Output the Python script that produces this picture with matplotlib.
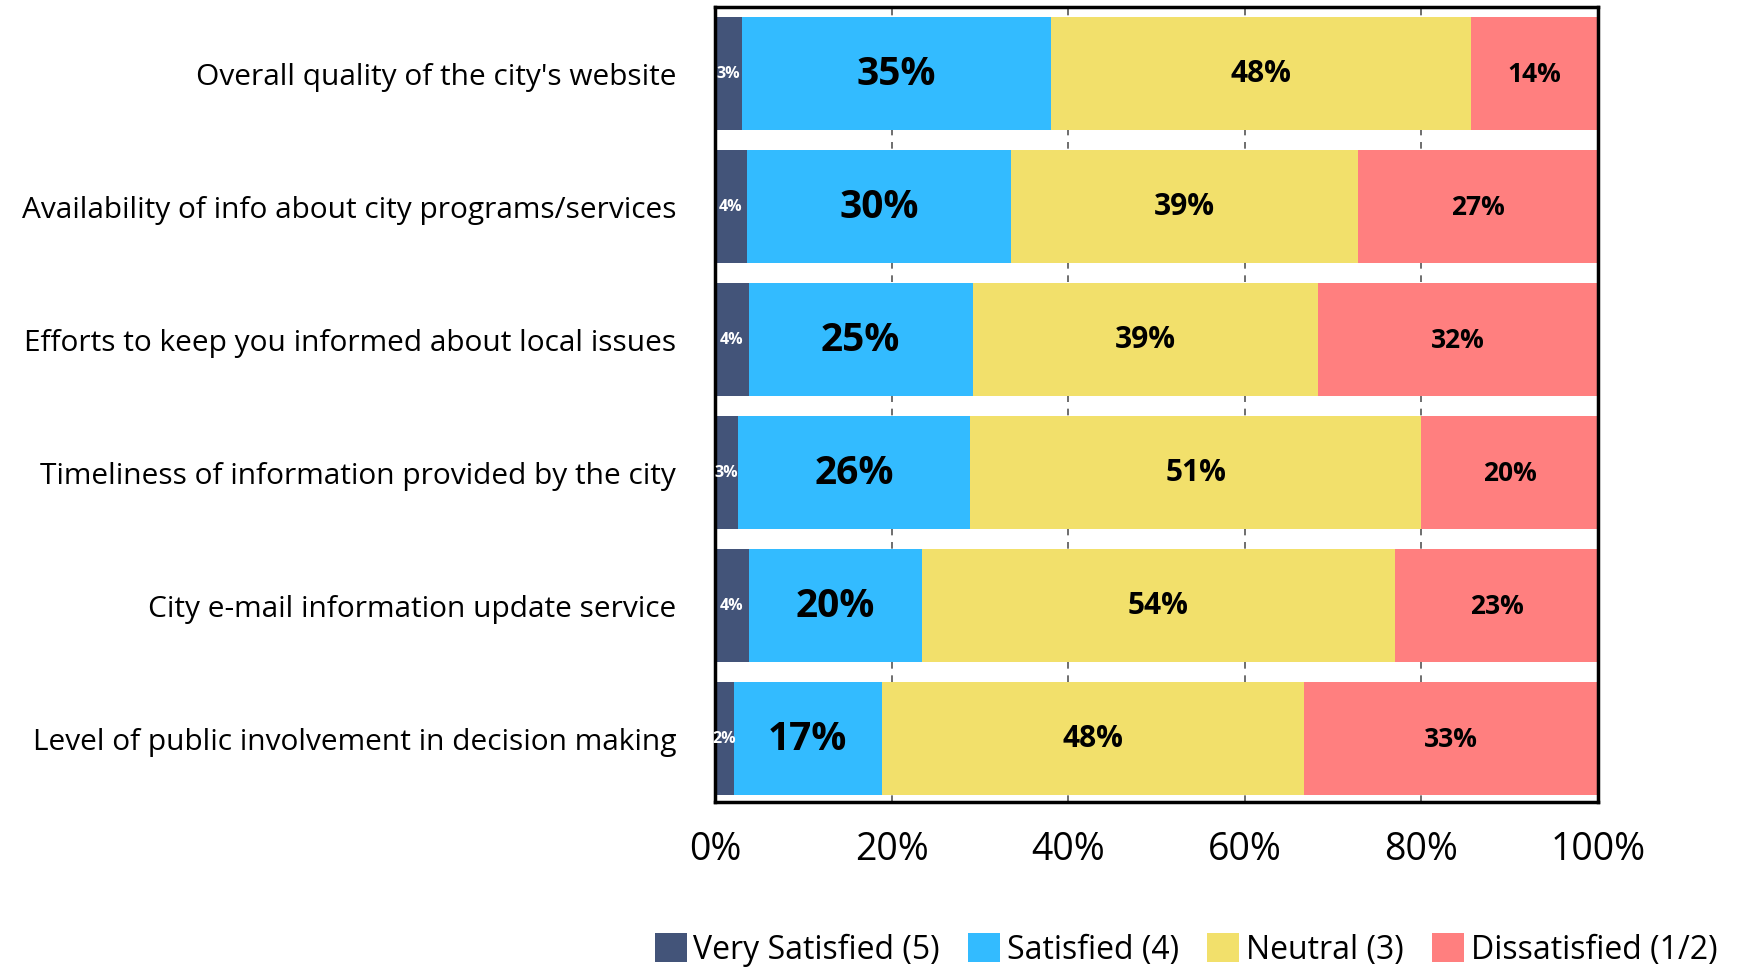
import matplotlib.pyplot as plt

plt.rcParams['font.family'] = ['Open Sans', 'DejaVu Sans']

# categories, top to bottom
categories = [
    "Overall quality of the city's website",
    "Availability of info about city programs/services",
    "Efforts to keep you informed about local issues",
    "Timeliness of information provided by the city",
    "City e-mail information update service",
    "Level of public involvement in decision making",
]

very_satisfied = [3.1, 3.6, 3.8, 2.6, 3.8, 2.1]
satisfied = [34.9, 29.9, 25.4, 26.3, 19.6, 16.8]
neutral = [47.6, 39.3, 39.1, 51.1, 53.6, 47.8]
dissatisfied = [14.4, 27.2, 31.7, 20.0, 23.0, 33.3]

series_names = ["Very Satisfied (5)", "Satisfied (4)", "Neutral (3)", "Dissatisfied (1/2)"]
colors = ["#435479", "#33BBFF", "#F2E06B", "#FF7F7F"]
label_colors = ["white", "black", "black", "black"]
label_sizes = [11.5, 28, 21.5, 19]

fig = plt.figure(figsize=(17.44, 9.7), dpi=100)
ax = fig.add_axes([0.41, 0.172, 0.5063, 0.82])

y = list(range(len(categories)))
left = [0.0] * len(categories)
all_series = [very_satisfied, satisfied, neutral, dissatisfied]
for vals, name, col, lc, ls in zip(all_series, series_names, colors, label_colors, label_sizes):
    bars = ax.barh(y, vals, left=left, height=0.85, color=col, label=name, zorder=2)
    for b, v in zip(bars, vals):
        ax.text(b.get_x() + b.get_width() / 2, b.get_y() + b.get_height() / 2,
                f"{round(v)}%", ha='center', va='center', color=lc,
                fontsize=ls, fontweight='bold', zorder=3)
    left = [l + v for l, v in zip(left, vals)]

ax.set_xlim(0, 100)
ax.set_ylim(5.48, -0.5)
ax.set_yticks(y)
ax.set_yticklabels(categories, fontsize=21.5)
ax.set_xticks([0, 20, 40, 60, 80, 100])
ax.set_xticklabels(["0%", "20%", "40%", "60%", "80%", "100%"], fontsize=27)
ax.tick_params(axis='y', length=0, pad=28)
ax.tick_params(axis='x', length=0, pad=20)
ax.xaxis.grid(True, linestyle=(0, (4, 4)), color='#555555', linewidth=1.2, zorder=0)
for s in ax.spines.values():
    s.set_linewidth(2.5)
    s.set_color('black')

fig.legend(loc='center', bbox_to_anchor=(0.68, 0.02), ncol=4, frameon=False,
           fontsize=23, handlelength=1.0, handleheight=1.0, handletextpad=0.2,
           columnspacing=0.9)

fig.savefig("out.png", dpi=100)
